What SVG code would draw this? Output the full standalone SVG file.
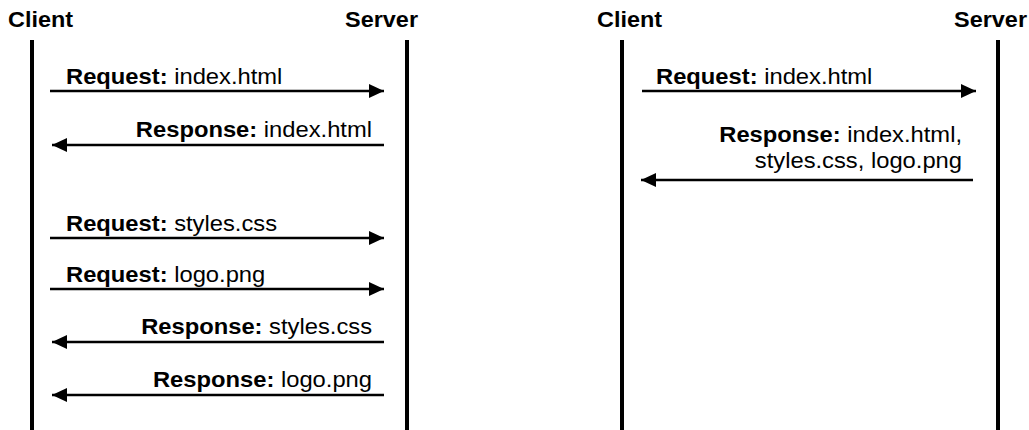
<svg xmlns="http://www.w3.org/2000/svg" width="1029" height="430" viewBox="0 0 1029 430">
  <style>
    .title { font-family: "Liberation Sans", Arial, Helvetica, sans-serif; font-size: 21.5px; font-weight: bold; fill: #000; }
    .label { font-family: "Liberation Sans", Arial, Helvetica, sans-serif; font-size: 22px; fill: #000; }
    .label .k { font-weight: bold; }
    .end { text-anchor: end; }
    .life { stroke: #000; stroke-width: 4; }
    .msg { stroke: #000; stroke-width: 2.5; fill: none; marker-end: url(#head); }
  </style>
  <defs>
    <marker id="head" viewBox="0 0 15 14" refX="15" refY="7" markerWidth="15" markerHeight="14" markerUnits="userSpaceOnUse" orient="auto">
      <path d="M0,0 L15,7 L0,14 Z" fill="#000"/>
    </marker>
  </defs>
  <rect width="1029" height="430" fill="#fff"/>

  <!-- Left: one request per resource -->
  <g id="client-a">
    <text class="title" transform="translate(8 27) scale(1.09 1)">Client</text>
    <line class="life" x1="32" y1="40" x2="32" y2="430"/>
  </g>
  <g id="server-a">
    <text class="title end" transform="translate(418 27) scale(1.09 1)">Server</text>
    <line class="life" x1="407" y1="40" x2="407" y2="430"/>
  </g>

  <!-- Right: everything delivered in a single response -->
  <g id="client-b">
    <text class="title" transform="translate(597 27) scale(1.09 1)">Client</text>
    <line class="life" x1="622" y1="40" x2="622" y2="430"/>
  </g>
  <g id="server-b">
    <text class="title end" transform="translate(1027 27) scale(1.09 1)">Server</text>
    <line class="life" x1="998" y1="40" x2="998" y2="430"/>
  </g>

  <g id="connectors">
    <line class="msg" x1="50" y1="91" x2="384" y2="91"/>
    <line class="msg" x1="384" y1="145" x2="52" y2="145"/>
    <line class="msg" x1="50" y1="238" x2="384" y2="238"/>
    <line class="msg" x1="50" y1="289" x2="384" y2="289"/>
    <line class="msg" x1="384" y1="342" x2="52" y2="342"/>
    <line class="msg" x1="384" y1="395" x2="52" y2="395"/>
    <line class="msg" x1="642" y1="91" x2="976" y2="91"/>
    <line class="msg" x1="973" y1="180" x2="641" y2="180"/>
  </g>

  <g id="labels">
    <text class="label" transform="translate(66 84) scale(1.08 1)"><tspan class="k">Request:</tspan> index.html</text>
    <text class="label end" transform="translate(372 137) scale(1.08 1)"><tspan class="k">Response:</tspan> index.html</text>
    <text class="label" transform="translate(66 231) scale(1.08 1)"><tspan class="k">Request:</tspan> styles.css</text>
    <text class="label" transform="translate(66 282) scale(1.08 1)"><tspan class="k">Request:</tspan> logo.png</text>
    <text class="label end" transform="translate(372 334) scale(1.08 1)"><tspan class="k">Response:</tspan> styles.css</text>
    <text class="label end" transform="translate(372 387) scale(1.08 1)"><tspan class="k">Response:</tspan> logo.png</text>
    <text class="label" transform="translate(656 84) scale(1.08 1)"><tspan class="k">Request:</tspan> index.html</text>
    <text class="label end" transform="translate(962 142) scale(1.08 1)"><tspan class="k">Response:</tspan> index.html,</text>
    <text class="label end" transform="translate(962 168) scale(1.08 1)">styles.css, logo.png</text>
  </g>
</svg>
